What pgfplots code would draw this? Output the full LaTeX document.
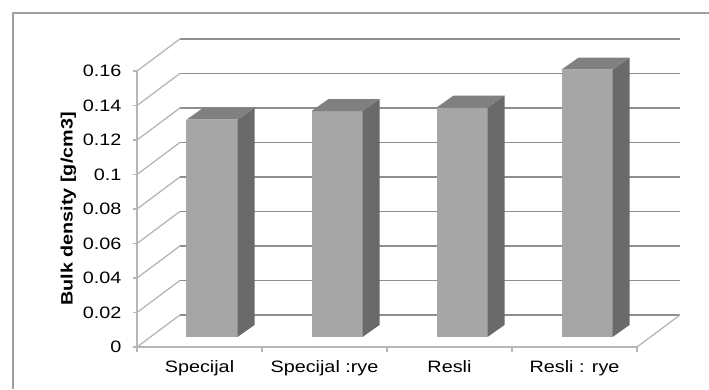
\documentclass[border=0pt]{standalone}
\usepackage{fontspec}
\setmainfont{Liberation Sans}[FakeStretch=1.2]
\usepackage{pgfplots}
\pgfplotsset{compat=1.18}
\definecolor{gridc}{RGB}{142,142,142}
\definecolor{wallc}{RGB}{182,182,182}
\definecolor{frontc}{RGB}{166,166,166}
\definecolor{topc}{RGB}{128,128,128}
\definecolor{sidec}{RGB}{106,106,106}
\definecolor{framec}{RGB}{160,160,160}
\newcommand{\backline}[1]{\addplot[gridc,line width=1.5pt] coordinates {(0.844,#1) (4.844,#1)};}
\newcommand{\wallline}[2]{\addplot[wallc,line width=1.3pt] coordinates {(0.5,#1) (0.844,#2)};}
\newcommand{\drawbar}[2]{%
 \pgfmathsetmacro\xl{#1-0.104}%
 \pgfmathsetmacro\xr{#1+0.304}%
 \pgfmathsetmacro\xlb{#1+0.032}%
 \pgfmathsetmacro\xb{#1+0.44}%
 \pgfmathsetmacro\yt{#2+0.0058}%
 \pgfmathsetmacro\ytb{#2+0.01276}%
 \edef\doit{%
 \noexpand\addplot[fill=frontc,draw=none] coordinates {(\xl,0.0058) (\xr,0.0058) (\xr,\yt) (\xl,\yt)} -- cycle;
 \noexpand\addplot[fill=sidec,draw=none] coordinates {(\xr,0.0058) (\xb,0.01276) (\xb,\ytb) (\xr,\yt)} -- cycle;
 \noexpand\addplot[fill=topc,draw=none] coordinates {(\xl,\yt) (\xr,\yt) (\xb,\ytb) (\xlb,\ytb)} -- cycle;
 }\doit}
\begin{document}
\begin{tikzpicture}
\useasboundingbox (-137pt,-42pt) rectangle (572pt,347pt);
\draw[framec,line width=1.2pt] (-124pt,-42pt) -- (-124pt,334pt) -- (572pt,334pt);
\begin{axis}[
  scale only axis, width=500pt, height=276pt,
  xmin=0.5, xmax=4.5, ymin=0, ymax=0.16,
  clip=false,
  axis x line*=bottom, axis y line*=left,
  axis line style={wallc,line width=1.3pt},
  tick align=outside,
  major tick length=4pt, minor tick length=5pt,
  ytick={0,0.02,0.04,0.06,0.08,0.1,0.12,0.14,0.16},
  yticklabels={0,0.02,0.04,0.06,0.08,0.1,0.12,0.14,0.16},
  xtick={1,2,3,4},
  xticklabels={Specijal,Specijal :rye,Resli,Resli : rye},
  minor xtick={0.5,1.5,2.5,3.5,4.5},
  every major x tick/.append style={draw=none},
  every minor x tick/.append style={wallc,line width=1.2pt},
  every major y tick/.append style={wallc,line width=1.2pt},
  tick label style={font=\fontsize{16.5}{19}\selectfont},
  yticklabel style={xshift=-8pt},
  xticklabel style={yshift=-6pt},
  ylabel={Bulk density [g/cm3]},
  ylabel style={font=\bfseries\fontsize{16.5}{19}\selectfont},
]
\backline{0.0186}\backline{0.0386}\backline{0.0586}\backline{0.0786}\backline{0.0986}
\backline{0.1186}\backline{0.1386}\backline{0.1586}\backline{0.1786}
\wallline{0}{0.0186}\wallline{0.02}{0.0386}\wallline{0.04}{0.0586}\wallline{0.06}{0.0786}
\wallline{0.08}{0.0986}\wallline{0.1}{0.1186}\wallline{0.12}{0.1386}\wallline{0.14}{0.1586}
\wallline{0.16}{0.1786}
\addplot[wallc,line width=1.3pt] coordinates {(4.5,0) (4.844,0.0186)};
\drawbar{1}{0.126}
\drawbar{2}{0.131}
\drawbar{3}{0.133}
\drawbar{4}{0.155}
\end{axis}
\end{tikzpicture}
\end{document}
